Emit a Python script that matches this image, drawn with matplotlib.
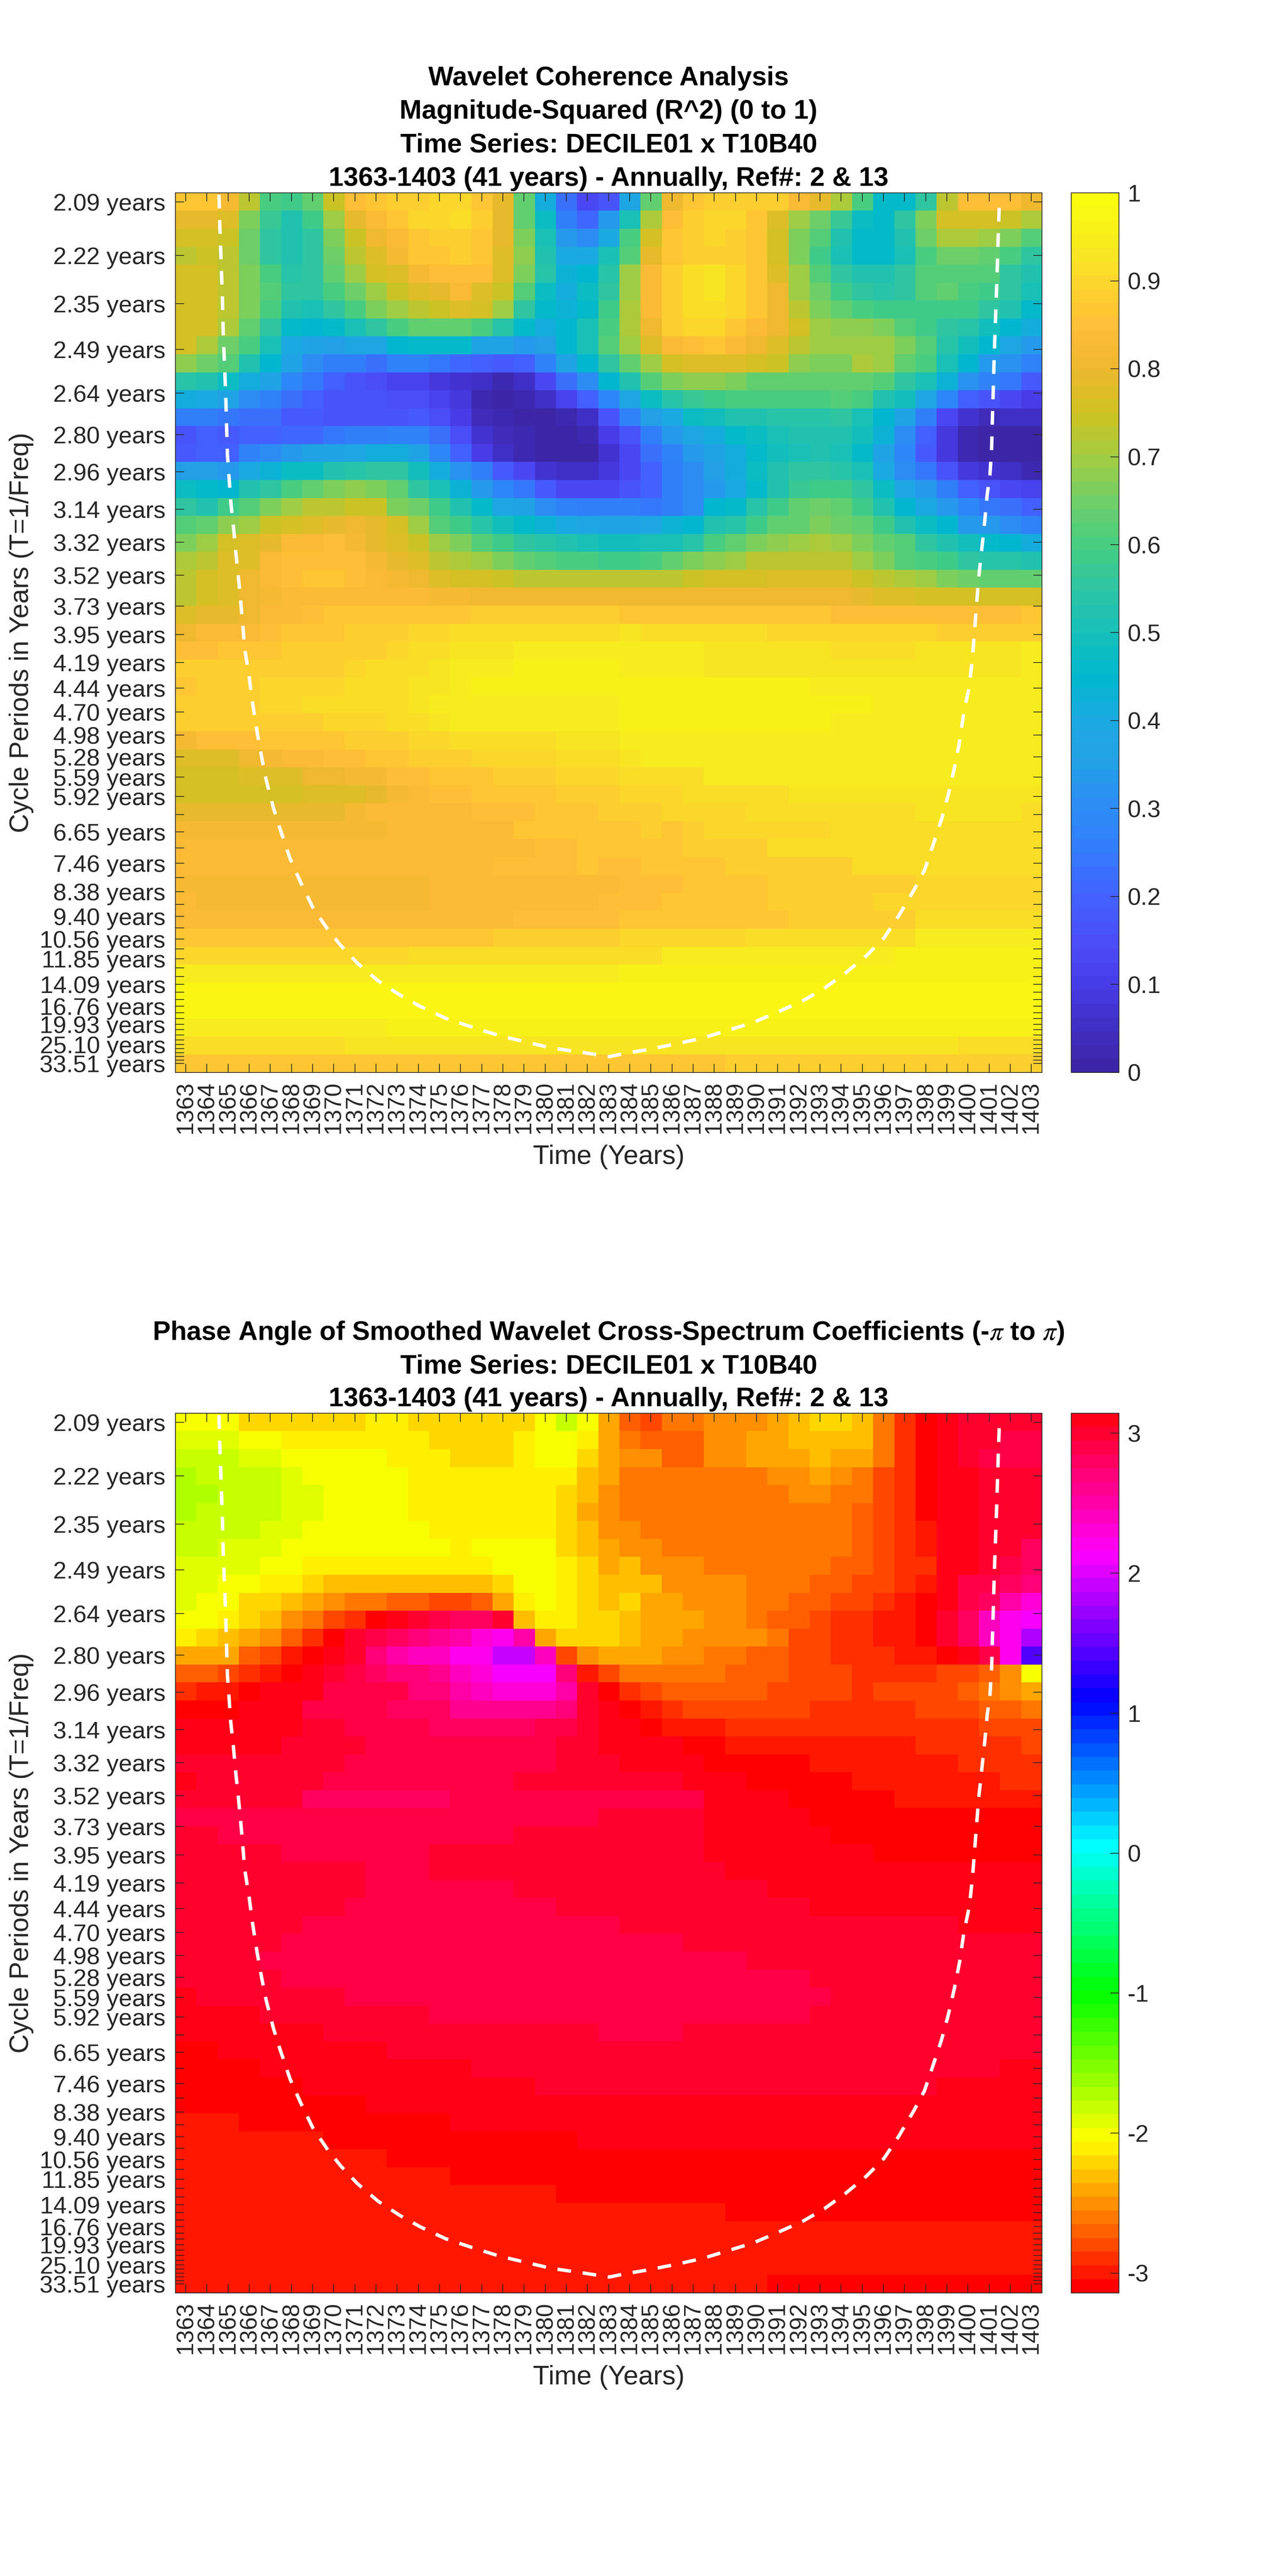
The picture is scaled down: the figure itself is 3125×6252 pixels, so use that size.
import numpy as np
import matplotlib
matplotlib.use("Agg")
import matplotlib.pyplot as plt
from matplotlib.colors import LinearSegmentedColormap, ListedColormap, hsv_to_rgb

plt.rcParams["font.family"] = ["Liberation Sans", "DejaVu Sans"]
plt.rcParams["mathtext.fontset"] = "stix"

years = list(range(1363, 1404))
periods = [2.09, 2.22, 2.35, 2.49, 2.64, 2.80, 2.96, 3.14, 3.32, 3.52, 3.73, 3.95, 4.19, 4.44, 4.70, 4.98, 5.28,
           5.59, 5.92, 6.27, 6.65, 7.04, 7.46, 7.90, 8.38, 8.88, 9.40, 9.96, 10.56, 11.18, 11.85, 12.55, 13.30,
           14.09, 14.93, 15.82, 16.76, 17.76, 18.81, 19.93, 21.11, 22.37, 23.70, 25.10, 26.60, 28.18, 29.85,
           31.63, 33.51]
labelled_periods = [2.09, 2.22, 2.35, 2.49, 2.64, 2.80, 2.96, 3.14, 3.32, 3.52, 3.73, 3.95, 4.19, 4.44, 4.70, 4.98,
                    5.28, 5.59, 5.92, 6.65, 7.46, 8.38, 9.40, 10.56, 11.85, 14.09, 16.76, 19.93, 25.10, 33.51]

# cone of influence
coi_years = [1364.57, 1364.61, 1364.67, 1364.73, 1364.77, 1364.83, 1364.89, 1364.93, 1364.97, 1365.05, 1365.13,
             1365.25, 1365.37, 1365.47, 1365.56, 1365.68, 1365.78, 1366.0, 1366.14, 1366.38, 1366.58, 1366.80,
             1367.14, 1367.43, 1367.93, 1368.43, 1369.02, 1369.72, 1370.32, 1371.11, 1372.1, 1373.1, 1374.09,
             1375.29, 1376.68, 1377.87, 1379.06, 1380.26, 1381.85, 1383.04, 1383.70, 1385.02, 1386.23, 1387.44,
             1388.65, 1389.86, 1390.97, 1392.19, 1393.2, 1394.2, 1395.22, 1396.03, 1396.73, 1397.44, 1397.94,
             1398.35, 1398.75, 1399.06, 1399.36, 1399.6, 1399.8, 1400.07, 1400.21, 1400.33, 1400.39, 1400.51,
             1400.65, 1400.79, 1400.91, 1401.04, 1401.12, 1401.16, 1401.2, 1401.24, 1401.28, 1401.32, 1401.36,
             1401.4, 1401.44, 1401.48]
coi_periods = [2.074, 2.147, 2.236, 2.332, 2.437, 2.539, 2.650, 2.770, 2.885, 2.991, 3.106, 3.229, 3.386, 3.509,
               3.639, 3.840, 4.063, 4.33, 4.57, 4.95, 5.27, 5.63, 6.13, 6.54, 7.32, 8.05, 9.02, 10.04, 10.94, 12.17,
               13.72, 15.22, 16.78, 18.73, 20.7, 22.6, 24.3, 26.3, 28.2, 29.9, 28.6, 26.7, 24.9, 23.2, 21.2, 19.5,
               17.7, 16.0, 14.5, 13.0, 11.6, 10.5, 9.36, 8.33, 7.67, 6.96, 6.37, 5.90, 5.44, 5.07, 4.71, 4.41, 4.15,
               3.88, 3.751, 3.533, 3.363, 3.207, 3.066, 2.973, 2.851, 2.724, 2.621, 2.513, 2.437, 2.366, 2.299,
               2.226, 2.157, 2.101]

# magnitude-squared coherence, hundredths, one row per period
coherence = [
    [86,86,82,72,60,58,63,74,85,87,89,89,90,90,87,79,63,42,23,13,17,38,64,80,87,89,89,88,88,84,79,71,60,46,46,56,73,85,85,85,81],
    [79,79,78,66,57,52,58,70,79,84,87,90,90,91,89,79,64,47,25,21,33,50,71,85,88,90,90,87,78,70,65,57,47,46,55,66,76,76,76,74,71],
    [75,75,74,65,56,52,56,66,74,81,84,87,88,89,86,79,66,51,33,30,40,60,76,87,89,90,89,86,75,67,61,52,46,46,52,65,71,71,69,66,61],
    [72,74,72,65,56,52,55,65,72,78,82,86,87,88,87,78,68,53,40,40,50,62,79,87,89,89,89,86,75,66,58,50,46,46,51,60,65,65,63,60,55],
    [75,75,73,66,60,54,55,63,69,75,78,82,85,85,85,78,66,54,43,45,54,69,84,89,92,93,90,86,77,69,62,56,53,53,56,62,62,62,61,56,52],
    [76,76,72,66,61,55,55,60,65,70,74,78,79,83,78,74,62,48,42,47,56,70,84,89,92,93,90,87,81,70,65,58,56,54,56,62,63,60,58,55,50],
    [76,76,72,66,60,53,50,56,60,66,70,73,74,77,75,69,56,46,43,46,58,71,83,89,91,92,90,87,80,72,67,64,60,58,58,59,59,58,55,52,46],
    [76,75,71,64,56,46,45,46,50,55,60,63,64,63,60,54,46,42,45,50,60,71,81,88,90,90,87,84,80,76,70,68,68,66,62,58,56,54,49,45,41],
    [75,71,65,60,50,40,36,35,38,38,45,46,46,46,36,36,34,35,44,51,61,70,77,84,85,86,84,80,77,72,70,70,70,70,66,61,54,49,45,39,33],
    [68,65,62,53,44,37,31,26,26,23,27,27,24,21,19,18,19,28,36,44,55,63,69,76,78,78,78,76,74,68,67,67,71,69,63,60,50,44,33,32,27],
    [54,52,48,42,36,29,24,19,17,15,12,12,9,7,5,3,5,14,22,31,44,53,61,66,68,68,66,64,64,64,64,64,64,61,56,50,43,32,28,24,18],
    [42,40,37,31,27,22,20,16,16,16,15,15,11,9,3,1,2,5,11,20,29,38,47,54,57,58,60,60,60,60,60,62,60,53,49,39,29,20,17,14,10],
    [25,25,24,22,22,18,18,17,17,17,17,18,15,10,4,2,0,1,2,6,17,28,35,40,47,49,52,53,54,54,54,55,51,45,36,26,14,7,4,5,5],
    [17,19,18,19,20,21,21,24,25,25,27,27,22,15,7,4,2,0,0,2,10,16,26,33,38,41,46,48,50,53,53,53,49,43,31,19,9,2,0,0,0],
    [18,19,19,27,30,33,36,37,39,41,42,37,29,19,10,5,3,1,0,0,7,13,22,27,34,37,41,46,49,51,52,51,46,37,29,18,8,3,0,0,0],
    [35,35,33,40,43,47,48,52,54,55,55,49,41,32,25,18,13,7,5,5,9,14,20,26,31,35,42,47,52,55,56,54,50,40,31,24,17,9,7,5,3],
    [47,46,45,52,56,60,63,66,68,66,64,56,50,43,34,29,24,18,14,13,14,16,19,25,30,33,40,46,53,57,58,58,55,48,38,34,26,19,17,14,12],
    [55,53,58,62,66,70,72,73,74,74,66,65,58,53,46,39,36,31,27,26,25,25,24,26,30,44,46,54,59,63,65,63,58,53,45,40,33,29,24,22,19],
    [62,64,68,70,74,76,78,79,80,79,76,70,62,59,54,49,46,43,40,38,37,37,38,43,45,52,54,59,63,64,66,65,63,58,52,47,44,34,33,31,28],
    [67,70,76,77,79,83,84,85,82,79,78,74,70,66,62,58,55,54,52,51,49,49,50,51,54,60,63,66,68,70,71,70,66,64,61,55,53,49,46,45,42],
    [71,73,77,78,83,85,85,85,85,82,79,78,73,71,69,66,63,62,60,60,59,59,60,63,66,68,69,72,73,73,73,72,69,67,62,60,58,56,54,54,52],
    [73,75,78,80,83,85,86,86,85,84,82,80,78,76,75,74,73,72,72,72,72,73,73,73,74,75,76,76,77,77,77,77,74,73,71,69,67,65,64,64,64],
    [73,75,78,80,82,83,83,83,83,83,83,83,82,82] + [81]*17 + [80,79,78,77,76,76,75,75,75,75],
    [77,79,79,81,83,83,85,86,86] + [87]*5 + [88]*7 + [87]*6 + [86]*4 + [85]*9 + [86],
    [80,83,83,84,85,86,87,87,88,88,89,90,90,91] + [92]*7 + [93] + [92]*6 + [90]*8 + [89]*5,
    [85,85,87,87,87,88,88,88,89,89,90,91,92,93,93,93] + [95]*5 + [94]*4 + [93]*6 + [92]*4 + [93]*5 + [94],
    [88,88,88,88,89,89,89,89,90,91,91,92,93,94,95,95] + [96]*5 + [95]*4 + [93]*15 + [95],
    [87,89,89,89,90,90,90,90,91,91,92,93,93,95] + [96]*7 + [96]*9 + [94]*7 + [95]*3 + [94],
    [88,88,88,89,90,90,91,91,92,92,92,93,94,94] + [95]*7 + [96]*12 + [94]*8,
    [88] + [89]*6 + [90,90,90,91,92,93] + [94]*5 + [95]*3 + [96]*10 + [94]*10,
    [82,85,85,85,86,86,86,87,88,89,89,90,90] + [92]*5 + [93]*3 + [94]*20,
    [77,77,77,81,82,84,84,85,85,86,87,88,89,89,90,90,90,90,91,91,92] + [93] + [94]*19,
    [76,76,76,77,77,77,80,80,82,82,85,85,86,86,87,88,89,89,90,90,90] + [92]*4 + [94]*16,
    [75,75,76,76,76,76,78,78,78,79,82,83,85,85,86,87,87,87,88,88,89] + [90]*3 + [91]*5 + [93]*12,
    [79]*8 + [82,83,83,83,84,84,85,85,85,86,86,87,88] + [89]*2 + [90]*4 + [92]*8 + [93]*5 + [92],
    [82]*10 + [83,84,84,84,84,84,86,86,86,86,86] + [86,88,87,88] + [90]*6 + [92]*10,
    [83]*9 + [84]*8 + [85,85,86,86] + [87]*3 + [89]*4 + [91]*13,
    [83]*11 + [84]*4 + [85]*4 + [86,85] + [85] + [87]*4 + [89]*6 + [91]*9,
    [82]*12 + [83]*5 + [84]*4 + [85]*3 + [87]*4 + [89]*7 + [90]*6,
    [84] + [82]*11 + [83]*4 + [84]*4 + [85] + [85]*2 + [86]*5 + [88]*5 + [90]*8,
    [84,84] + [83]*9 + [84]*5 + [85]*5 + [86]*3 + [87]*5 + [89]*6 + [91]*6,
    [87]*15 + [88]*6 + [90]*6 + [92]*8 + [94]*6,
    [90]*11 + [91]*9 + [92] + [92]*2 + [94]*11 + [96]*7,
    [94]*14 + [95]*7 + [96]*20,
    [97]*20 + [98]*21,
    [97]*20 + [98]*20 + [97],
    [94]*10 + [96]*31,
    [91]*8 + [93]*29 + [92]*4,
    [86]*17 + [87]*9 + [89]*15,
]

# phase angle, hundredths of a radian, one row per period
phase = [
    [-201]*3 + [-221]*6 + [-211]*2 + [-221]*6 + [-201,-182,-201,-241,-270,-280,-260,-260,-250,-250,-250,-241,-231,-221,-221,-231,-260,-290,-309,309] + [299]*4,
    [-191]*3 + [-201]*2 + [-211]*7 + [-221]*4 + [-211,-201,-201,-211,-241,-260] + [-270]*3 + [-250]*2 + [-241]*2 + [-231]*4 + [-260,-290,-309,309,299,299,290,290],
    [-182]*3 + [-191]*2 + [-201]*5 + [-211]*3 + [-221]*3 + [-211,-201,-201,-221,-241,-250,-250,-270,-270,-250,-250,-241,-241,-241,-231,-241,-241,-260,-290,-309,309,299,290,290,290],
    [-172] + [-182]*4 + [-191] + [-201]*5 + [-211]*8 + [-231,-241] + [-260]*7 + [-250,-250,-241,-250,-260,-280,-290,-309,309,309,299,299,299],
    [-172]*2 + [-182]*3 + [-191]*2 + [-201]*4 + [-211]*7 + [-221,-231,-250] + [-260]*8 + [-250,-250,-260,-260,-280,-290,-309,309,309,299,299,299],
    [-172] + [-182]*4 + [-191]*2 + [-201]*4 + [-211]*7 + [-221,-241,-250] + [-260]*11 + [-270,-280,-290,-309,309,309,299,299,299],
    [-182]*4 + [-191]*2 + [-201]*6 + [-211]*6 + [-221,-231,-250,-250] + [-260]*10 + [-270,-280,-290,-299,309,309,299,299,299],
    [-182]*2 + [-191]*3 + [-201]*8 + [-211] + [-201]*4 + [-221,-231,-241,-250,-250] + [-260]*9 + [-270,-280,-290,-299,309,309,299,299,280],
    [-191]*4 + [-201]*2 + [-211]*9 + [-201]*3 + [-211,-221,-241,-231] + [-250]*3 + [-260]*6 + [-270,-270,-280,-290,-290,309,309,299,290,280],
    [-191]*2 + [-201]*2 + [-211]*2 + [-221] + [-231]*8 + [-221,-201,-201,-211,-221,-231,-231,-231] + [-250]*4 + [-260]*3 + [-270,-270,-280,-280,-290,-299,309,290,290,280,270],
    [-191,-201,-201,-221,-221,-231,-241,-250,-260,-260,-270,-270,-280,-280,-270,-241,-211,-201,-211,-221,-231,-221,-241,-241,-250,-250,-250,-260,-260,-270,-270,-280,-280,-290,-299,-309,309,290,280,250,231],
    [-201,-201,-211,-221,-231,-250,-260,-280,-290,-309,309,299,290,280,280,299,-231,-211,-211,-221,-221,-231,-241,-241,-241,-250,-250,-260,-270,-270,-280,-290,-290,-299,-299,-309,299,280,241,221,211],
    [-211,-221,-231,-241,-250,-270,-290,-309,299,290,280,270,260,250,231,221,250,-241,-221,-221,-221,-231,-241,-241,-250,-250,-250,-250,-260,-280,-280,-290,-290,-299,-299,-309,299,280,241,221,182],
    [-241]*3 + [-270,-280,-299,-309,309,299,270,250,241,241,221,221,191,191,241,-280,-250,-241,-241,-241,-250,-250,-260,-260,-270,-270,-280,-280,-290,-290,-290,-299,-299,-309,309,290,221,142],
    [-270,-270,-280,-290,-299,-309,309,299,290,280,270,270,260,241,231,211,211,211,270,-299,-280] + [-260]*5 + [-270]*3 + [-280]*3 + [-290]*4 + [-280,-280,-270,-250,-201],
    [-290,-299,-299,-309,309,309,309,290,290,290,290,270,270,250,241,231,231,231,250,299,-309,-290,-280] + [-270]*5 + [-280]*4 + [-290] + [-280]*4 + [-270,-260,-250,-241],
    [-309]*3 + [309]*3 + [290]*4 + [280]*3 + [260]*5 + [270,299,309,-309,-299,-290] + [-280]*6 + [-290]*5 + [-280]*3 + [-270,-270,-260],
    [309]*6 + [299]*2 + [290]*4 + [280]*5 + [290,290,299,309,309,-309] + [-299]*3 + [-290]*12 + [-280]*3,
    [309]*5 + [299]*4 + [290]*9 + [299]*2 + [309]*4 + [-309]*2 + [-299]*9 + [-290]*5 + [-280],
    [299]*8 + [290]*10 + [299]*3 + [309]*4 + [-309]*5 + [-299]*7 + [-290]*4,
    [309] + [299]*6 + [290]*9 + [299]*8 + [309]*3 + [-309]*5 + [-299]*7 + [-290]*2,
    [299]*6 + [280]*7 + [290]*12 + [309]*4 + [-309]*5 + [-299]*7,
    [290]*20 + [299]*5 + [309]*5 + [-309]*11,
    [299]*2 + [290]*14 + [299]*9 + [309]*6 + [-309]*10,
    [299]*5 + [290]*7 + [299]*13 + [309]*8 + [-309]*8,
    [299]*9 + [290]*3 + [299]*14 + [309]*15,
    [299]*9 + [290]*7 + [299]*12 + [309]*13,
    [299]*8 + [290]*10 + [299]*12 + [309]*11,
    [299]*6 + [290]*15 + [299]*16 + [309]*4,
    [299]*5 + [290]*19 + [299]*17,
    [299]*4 + [290]*23 + [299]*14,
    [299]*5 + [290]*25 + [299]*11,
    [309] + [299]*7 + [290]*23 + [299]*10,
    [309]*4 + [299]*8 + [290]*18 + [299]*11,
    [309]*7 + [299]*13 + [290]*4 + [299]*17,
    [-309]*2 + [309]*8 + [299]*31,
    [-309]*4 + [309]*10 + [299]*25 + [309]*2,
    [-309]*6 + [309]*11 + [299]*19 + [309]*5,
    [-309]*9 + [309]*32,
    [-299]*3 + [-309]*10 + [309]*28,
    [-299]*7 + [-309]*12 + [309]*22,
    [-299]*10 + [-309]*31,
    [-299]*13 + [-309]*28,
    [-299]*18 + [-309]*23,
    [-299]*26 + [-309]*15,
    [-299]*41,
    [-299]*41,
    [-299]*41,
    [-299]*28 + [-309]*13,
]

for name, rows in (("coherence", coherence), ("phase", phase)):
    for i, row in enumerate(rows):
        if len(row) != len(years):
            raise ValueError(f"{name} row {i} has {len(row)} values")

W, H = 3125, 6252
AX_LEFT, AX_RIGHT = 425.5, 2530.0
CB_LEFT, CB_RIGHT = 2600.5, 2716.6
TEXT_GREY = "#262626"

coherence_map = LinearSegmentedColormap.from_list("coherence", np.array([
    (60, 38, 165), (65, 48, 200), (72, 62, 235), (75, 80, 250), (65, 100, 255), (50, 125, 250), (45, 140, 245),
    (35, 160, 230), (28, 170, 225), (0, 184, 205), (22, 192, 185), (45, 197, 165), (70, 205, 130), (110, 207, 105),
    (160, 205, 68), (205, 195, 35), (235, 185, 45), (255, 187, 55), (252, 212, 45), (247, 236, 30), (250, 252, 15),
]) / 255, N=64)
phase_map = ListedColormap(hsv_to_rgb(np.column_stack([np.arange(64) / 64, np.ones(64), np.ones(64)])))

fig = plt.figure(figsize=(W / 100, H / 100), dpi=100)


def draw_panel(values, cmap, vmin, vmax, top, bottom, title_lines, title_ys, cb_ticks, cb_labels):
    ax = fig.add_axes([AX_LEFT / W, 1 - bottom / H, (AX_RIGHT - AX_LEFT) / W, (bottom - top) / H])
    freq = 1 / np.array(periods)
    step = (freq[0] - freq[-1]) / (len(freq) - 1)
    im = ax.imshow(values, cmap=cmap, vmin=vmin, vmax=vmax, aspect="auto", interpolation="nearest",
                   extent=[years[0] - 0.5, years[-1] + 0.5, freq[-1] - step / 2, freq[0] + step / 2])
    ax.plot(coi_years, 1 / np.array(coi_periods), color="white", lw=6, ls=(0, (4.0, 3.4)))

    ax.set_xticks(years)
    ax.set_xticklabels([str(y) for y in years], rotation=90, fontsize=41, color=TEXT_GREY)
    ax.set_yticks(freq)
    ax.set_yticklabels([f"{p:.2f} years" if p in labelled_periods else "" for p in periods],
                       fontsize=42, color=TEXT_GREY)
    ax.tick_params(axis="both", direction="in", length=15, width=1.3, color=TEXT_GREY, top=True, right=True)
    ax.tick_params(axis="x", pad=15)
    ax.tick_params(axis="y", pad=17)
    for spine in ax.spines.values():
        spine.set_linewidth(1.3)
        spine.set_color(TEXT_GREY)

    for line, y in zip(title_lines, title_ys):
        fig.text((AX_LEFT + AX_RIGHT) / 2 / W, 1 - y / H, line, ha="center", va="baseline",
                 fontsize=46.5, fontweight="bold", color="black")
    fig.text(69 / W, 1 - (top + bottom) / 2 / H, "Cycle Periods in Years (T=1/Freq)", rotation=90,
             rotation_mode="anchor", ha="center", va="baseline", fontsize=46.5, color=TEXT_GREY)
    fig.text((AX_LEFT + AX_RIGHT) / 2 / W, 1 - (bottom + 222) / H, "Time (Years)", ha="center", va="baseline",
             fontsize=47, color=TEXT_GREY)

    cax = fig.add_axes([CB_LEFT / W, 1 - bottom / H, (CB_RIGHT - CB_LEFT) / W, (bottom - top) / H])
    cb = fig.colorbar(im, cax=cax, ticks=cb_ticks)
    cb.set_ticklabels(cb_labels)
    cax.tick_params(direction="in", length=15, width=1.3, color=TEXT_GREY, labelsize=42,
                    labelcolor=TEXT_GREY, pad=15)
    cb.outline.set_linewidth(1.3)
    cb.outline.set_edgecolor(TEXT_GREY)


draw_panel(np.array(coherence) / 100, coherence_map, 0, 1, 468, 2603,
           ["Wavelet Coherence Analysis", "Magnitude-Squared (R^2) (0 to 1)", "Time Series: DECILE01 x T10B40",
            "1363-1403 (41 years) - Annually, Ref#: 2 & 13"],
           [207, 288, 370, 451],
           [0, 0.1, 0.2, 0.3, 0.4, 0.5, 0.6, 0.7, 0.8, 0.9, 1],
           ["0", "0.1", "0.2", "0.3", "0.4", "0.5", "0.6", "0.7", "0.8", "0.9", "1"])

draw_panel(np.array(phase) / 100, phase_map, -np.pi, np.pi, 3430, 5565,
           [r"Phase Angle of Smoothed Wavelet Cross-Spectrum Coefficients (-$\pi$ to $\pi$)",
            "Time Series: DECILE01 x T10B40", "1363-1403 (41 years) - Annually, Ref#: 2 & 13"],
           [3252, 3333, 3413],
           [-3, -2, -1, 0, 1, 2, 3],
           ["-3", "-2", "-1", "0", "1", "2", "3"])

fig.savefig("out.png", dpi=100)
